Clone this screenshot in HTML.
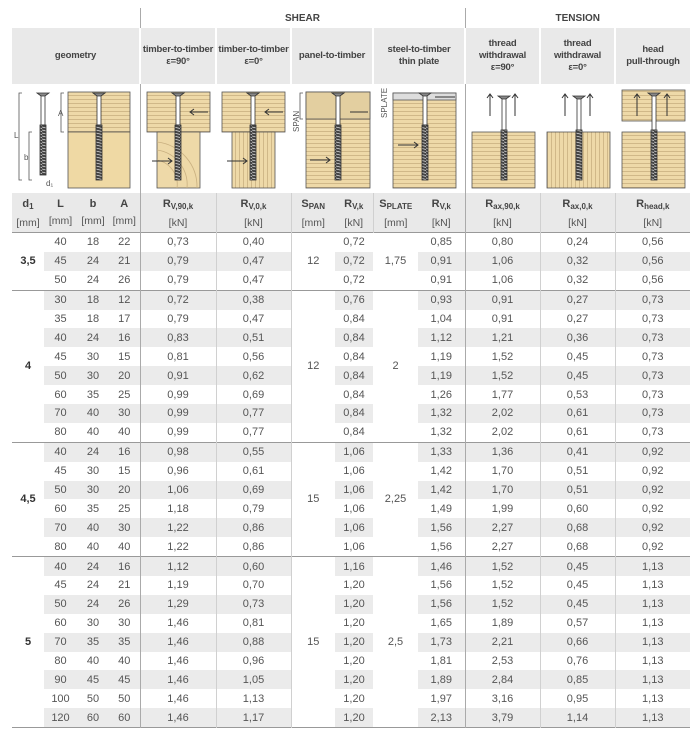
<!DOCTYPE html>
<html><head><meta charset="utf-8"><style>
body{margin:0;width:694px;height:731px;background:#fff;font-family:"Liberation Sans",sans-serif;position:relative;overflow:hidden}
table{position:absolute;left:12px;top:8px;border-collapse:collapse;table-layout:fixed;width:678px}
td{padding:0;text-align:center;font-size:11px;color:#555;white-space:nowrap;overflow:hidden}
.top td{height:20px;font-weight:bold;font-size:10px;color:#444}
.hd td{height:56px;background:#e9e9e9;font-weight:bold;font-size:9.5px;letter-spacing:-0.2px;color:#444;line-height:12px;border-left:2px solid #fff}
.il td{height:109px}
.sy td{height:36px;background:#e9e9e9;color:#444;vertical-align:top;padding-top:3px;line-height:17px}
.sy b{font-size:11px}
.sy span{color:#555;font-size:10.5px}
.d td{height:18.9px}
.g td{background:#ebebeb}
.g td.w,td.w{background:#fff}
.L{border-left:1px solid #aaa}
.l{border-left:1px solid #d0d0d0}
.sep td{border-top:1px solid #999}
.n{color:#333;font-weight:bold}
sub{font-size:8px;vertical-align:-2px}
</style></head><body>
<table>
<colgroup><col style="width:32px"><col style="width:33px"><col style="width:32px"><col style="width:31px"><col style="width:76px"><col style="width:75px"><col style="width:44px"><col style="width:38px"><col style="width:45px"><col style="width:47px"><col style="width:75px"><col style="width:75px"><col style="width:75px"></colgroup>
<tr class="top"><td colspan="4"></td><td colspan="6" class="L">SHEAR</td><td colspan="3" class="L">TENSION</td></tr>
<tr class="hd"><td colspan="4" style="border-left:0">geometry</td><td class="L">timber-to-timber<br>ε=90°</td><td>timber-to-timber<br>ε=0°</td><td colspan="2">panel-to-timber</td><td colspan="2">steel-to-timber<br>thin plate</td><td class="L">thread<br>withdrawal<br>ε=90°</td><td>thread<br>withdrawal<br>ε=0°</td><td>head<br>pull-through</td></tr>
<tr class="il"><td colspan="4"></td><td class="L"></td><td></td><td colspan="2"></td><td colspan="2"></td><td class="L"></td><td></td><td></td></tr>
<tr class="sy"><td><b>d<sub>1</sub></b><br><span>[mm]</span></td><td><b>L</b><br><span>[mm]</span></td><td><b>b</b><br><span>[mm]</span></td><td><b>A</b><br><span>[mm]</span></td><td class="L"><b>R<sub>V,90,k</sub></b><br><span>[kN]</span></td><td class="l"><b>R<sub>V,0,k</sub></b><br><span>[kN]</span></td><td class="l"><b>S<sub>PAN</sub></b><br><span>[mm]</span></td><td><b>R<sub>V,k</sub></b><br><span>[kN]</span></td><td class="l"><b>S<sub>PLATE</sub></b><br><span>[mm]</span></td><td><b>R<sub>V,k</sub></b><br><span>[kN]</span></td><td class="L"><b>R<sub>ax,90,k</sub></b><br><span>[kN]</span></td><td class="l"><b>R<sub>ax,0,k</sub></b><br><span>[kN]</span></td><td class="l"><b>R<sub>head,k</sub></b><br><span>[kN]</span></td></tr>

<tr class="d sep"><td rowspan="3" class="w n">3,5</td><td>40</td><td>18</td><td>22</td><td class="L">0,73</td><td class="l">0,40</td><td rowspan="3" class="w l">12</td><td>0,72</td><td rowspan="3" class="w">1,75</td><td>0,85</td><td class="L">0,80</td><td class="l">0,24</td><td class="l">0,56</td></tr>
<tr class="d g"><td>45</td><td>24</td><td>21</td><td class="L">0,79</td><td class="l">0,47</td><td>0,72</td><td>0,91</td><td class="L">1,06</td><td class="l">0,32</td><td class="l">0,56</td></tr>
<tr class="d"><td>50</td><td>24</td><td>26</td><td class="L">0,79</td><td class="l">0,47</td><td>0,72</td><td>0,91</td><td class="L">1,06</td><td class="l">0,32</td><td class="l">0,56</td></tr>

<tr class="d g sep"><td rowspan="8" class="w n">4</td><td>30</td><td>18</td><td>12</td><td class="L">0,72</td><td class="l">0,38</td><td rowspan="8" class="w l">12</td><td>0,76</td><td rowspan="8" class="w">2</td><td>0,93</td><td class="L">0,91</td><td class="l">0,27</td><td class="l">0,73</td></tr>
<tr class="d"><td>35</td><td>18</td><td>17</td><td class="L">0,79</td><td class="l">0,47</td><td>0,84</td><td>1,04</td><td class="L">0,91</td><td class="l">0,27</td><td class="l">0,73</td></tr>
<tr class="d g"><td>40</td><td>24</td><td>16</td><td class="L">0,83</td><td class="l">0,51</td><td>0,84</td><td>1,12</td><td class="L">1,21</td><td class="l">0,36</td><td class="l">0,73</td></tr>
<tr class="d"><td>45</td><td>30</td><td>15</td><td class="L">0,81</td><td class="l">0,56</td><td>0,84</td><td>1,19</td><td class="L">1,52</td><td class="l">0,45</td><td class="l">0,73</td></tr>
<tr class="d g"><td>50</td><td>30</td><td>20</td><td class="L">0,91</td><td class="l">0,62</td><td>0,84</td><td>1,19</td><td class="L">1,52</td><td class="l">0,45</td><td class="l">0,73</td></tr>
<tr class="d"><td>60</td><td>35</td><td>25</td><td class="L">0,99</td><td class="l">0,69</td><td>0,84</td><td>1,26</td><td class="L">1,77</td><td class="l">0,53</td><td class="l">0,73</td></tr>
<tr class="d g"><td>70</td><td>40</td><td>30</td><td class="L">0,99</td><td class="l">0,77</td><td>0,84</td><td>1,32</td><td class="L">2,02</td><td class="l">0,61</td><td class="l">0,73</td></tr>
<tr class="d"><td>80</td><td>40</td><td>40</td><td class="L">0,99</td><td class="l">0,77</td><td>0,84</td><td>1,32</td><td class="L">2,02</td><td class="l">0,61</td><td class="l">0,73</td></tr>

<tr class="d g sep"><td rowspan="6" class="w n">4,5</td><td>40</td><td>24</td><td>16</td><td class="L">0,98</td><td class="l">0,55</td><td rowspan="6" class="w l">15</td><td>1,06</td><td rowspan="6" class="w">2,25</td><td>1,33</td><td class="L">1,36</td><td class="l">0,41</td><td class="l">0,92</td></tr>
<tr class="d"><td>45</td><td>30</td><td>15</td><td class="L">0,96</td><td class="l">0,61</td><td>1,06</td><td>1,42</td><td class="L">1,70</td><td class="l">0,51</td><td class="l">0,92</td></tr>
<tr class="d g"><td>50</td><td>30</td><td>20</td><td class="L">1,06</td><td class="l">0,69</td><td>1,06</td><td>1,42</td><td class="L">1,70</td><td class="l">0,51</td><td class="l">0,92</td></tr>
<tr class="d"><td>60</td><td>35</td><td>25</td><td class="L">1,18</td><td class="l">0,79</td><td>1,06</td><td>1,49</td><td class="L">1,99</td><td class="l">0,60</td><td class="l">0,92</td></tr>
<tr class="d g"><td>70</td><td>40</td><td>30</td><td class="L">1,22</td><td class="l">0,86</td><td>1,06</td><td>1,56</td><td class="L">2,27</td><td class="l">0,68</td><td class="l">0,92</td></tr>
<tr class="d"><td>80</td><td>40</td><td>40</td><td class="L">1,22</td><td class="l">0,86</td><td>1,06</td><td>1,56</td><td class="L">2,27</td><td class="l">0,68</td><td class="l">0,92</td></tr>

<tr class="d g sep"><td rowspan="9" class="w n">5</td><td>40</td><td>24</td><td>16</td><td class="L">1,12</td><td class="l">0,60</td><td rowspan="9" class="w l">15</td><td>1,16</td><td rowspan="9" class="w">2,5</td><td>1,46</td><td class="L">1,52</td><td class="l">0,45</td><td class="l">1,13</td></tr>
<tr class="d"><td>45</td><td>24</td><td>21</td><td class="L">1,19</td><td class="l">0,70</td><td>1,20</td><td>1,56</td><td class="L">1,52</td><td class="l">0,45</td><td class="l">1,13</td></tr>
<tr class="d g"><td>50</td><td>24</td><td>26</td><td class="L">1,29</td><td class="l">0,73</td><td>1,20</td><td>1,56</td><td class="L">1,52</td><td class="l">0,45</td><td class="l">1,13</td></tr>
<tr class="d"><td>60</td><td>30</td><td>30</td><td class="L">1,46</td><td class="l">0,81</td><td>1,20</td><td>1,65</td><td class="L">1,89</td><td class="l">0,57</td><td class="l">1,13</td></tr>
<tr class="d g"><td>70</td><td>35</td><td>35</td><td class="L">1,46</td><td class="l">0,88</td><td>1,20</td><td>1,73</td><td class="L">2,21</td><td class="l">0,66</td><td class="l">1,13</td></tr>
<tr class="d"><td>80</td><td>40</td><td>40</td><td class="L">1,46</td><td class="l">0,96</td><td>1,20</td><td>1,81</td><td class="L">2,53</td><td class="l">0,76</td><td class="l">1,13</td></tr>
<tr class="d g"><td>90</td><td>45</td><td>45</td><td class="L">1,46</td><td class="l">1,05</td><td>1,20</td><td>1,89</td><td class="L">2,84</td><td class="l">0,85</td><td class="l">1,13</td></tr>
<tr class="d"><td>100</td><td>50</td><td>50</td><td class="L">1,46</td><td class="l">1,13</td><td>1,20</td><td>1,97</td><td class="L">3,16</td><td class="l">0,95</td><td class="l">1,13</td></tr>
<tr class="d g" style="border-bottom:1px solid #999"><td>120</td><td>60</td><td>60</td><td class="L">1,46</td><td class="l">1,17</td><td>1,20</td><td>2,13</td><td class="L">3,79</td><td class="l">1,14</td><td class="l">1,13</td></tr>
</table>

<svg width="694" height="731" style="position:absolute;left:0;top:0" xmlns="http://www.w3.org/2000/svg">
<defs>
<pattern id="h" width="6" height="4" patternUnits="userSpaceOnUse"><rect width="6" height="4" fill="#eed9a8"/><line x1="0" y1="3.5" x2="6" y2="3.5" stroke="#c9b080" stroke-width="0.8"/></pattern>
<pattern id="v" width="4" height="6" patternUnits="userSpaceOnUse"><rect width="4" height="6" fill="#eed9a8"/><line x1="3.5" y1="0" x2="3.5" y2="6" stroke="#c9b080" stroke-width="0.8"/></pattern>
<pattern id="t" width="6" height="3" patternUnits="userSpaceOnUse"><rect width="6" height="3" fill="#444"/><line x1="0" y1="1" x2="6" y2="2.5" stroke="#ddd" stroke-width="0.8"/></pattern>
</defs>
<g stroke="#555" stroke-width="0.8">
<rect x="68" y="92" width="62" height="40" fill="url(#h)"/><rect x="68" y="132" width="62" height="56" fill="#efd9a4"/>
<path d="M22 93h-3v87h3M32 132h-3v48h3M64 93h-3v39h3" fill="none"/>
<rect x="147" y="92" width="63" height="40" fill="url(#h)"/><rect x="157" y="132" width="43" height="56" fill="#eed9a8"/>
<path d="M157 150a35 35 0 0 1 30 38M157 160a25 25 0 0 1 20 28M157 142a45 45 0 0 1 40 46" fill="none" stroke="#c9b080"/>
<rect x="222" y="92" width="63" height="40" fill="url(#h)"/><rect x="232" y="132" width="43" height="56" fill="url(#v)"/>
<rect x="306" y="92" width="64" height="96" fill="url(#h)"/><rect x="306" y="92" width="64" height="27" fill="#e3cfa0"/>
<path d="M303 93h-3v26h3" fill="none"/>
<rect x="393" y="93" width="63" height="95" fill="url(#h)"/><rect x="393" y="93" width="63" height="7" fill="#ddd"/>
<rect x="472" y="132" width="63" height="56" fill="url(#h)"/>
<rect x="547" y="132" width="63" height="56" fill="url(#v)"/>
<rect x="622" y="90" width="63" height="31" fill="url(#h)"/><rect x="622" y="132" width="63" height="56" fill="url(#h)"/>
</g>
<g fill="#fff" stroke="#333" stroke-width="0.8">
<rect x="41" y="95" width="4" height="30"/><rect x="40" y="125" width="6" height="50" fill="url(#t)"/><path d="M37 93h12l-4 3h-4z" fill="#888"/>
<rect x="97" y="95" width="4" height="30"/><rect x="96" y="125" width="6" height="55" fill="url(#t)"/><path d="M93 93h12l-4 3h-4z" fill="#888"/>
<rect x="176" y="95" width="4" height="30"/><rect x="175" y="125" width="6" height="55" fill="url(#t)"/><path d="M172 93h12l-4 3h-4z" fill="#888"/>
<rect x="251" y="95" width="4" height="30"/><rect x="250" y="125" width="6" height="55" fill="url(#t)"/><path d="M247 93h12l-4 3h-4z" fill="#888"/>
<rect x="336" y="95" width="4" height="30"/><rect x="335" y="125" width="6" height="55" fill="url(#t)"/><path d="M332 93h12l-4 3h-4z" fill="#888"/>
<rect x="423" y="95" width="4" height="30"/><rect x="422" y="125" width="6" height="55" fill="url(#t)"/><path d="M419 93h12l-4 3h-4z" fill="#888"/>
<rect x="502" y="98" width="4" height="32"/><rect x="501" y="130" width="6" height="50" fill="url(#t)"/><path d="M498 96h12l-4 3h-4z" fill="#888"/>
<rect x="577" y="98" width="4" height="32"/><rect x="576" y="130" width="6" height="50" fill="url(#t)"/><path d="M573 96h12l-4 3h-4z" fill="#888"/>
<rect x="652" y="95" width="4" height="35"/><rect x="651" y="130" width="6" height="50" fill="url(#t)"/><path d="M648 93h12l-4 3h-4z" fill="#888"/>
</g>
<g stroke="#333" stroke-width="1" fill="none">
<path d="M208 112h-18m4-3l-4 3 4 3M283 112h-18m4-3l-4 3 4 3M368 112h-18M455 97h-20"/>
<path d="M152 161h20m-4-3l4 3-4 3M227 161h20m-4-3l4 3-4 3M310 160h20m-4-3l4 3-4 3M398 145h20m-4-3l4 3-4 3"/>
<path d="M490 116v-22m-3 4l3-4 3 4M515 116v-22m-3 4l3-4 3 4M565 116v-22m-3 4l3-4 3 4M590 116v-22m-3 4l3-4 3 4M637 116v-22m-3 4l3-4 3 4M667 116v-22m-3 4l3-4 3 4"/>
</g>
<g font-family="Liberation Sans,sans-serif" font-size="8" fill="#555">
<text x="14" y="138">L</text><text x="24" y="160">b</text><text x="58" y="116">A</text><text x="46" y="186">d₁</text>
<text x="299" y="132" transform="rotate(-90 299 132)">SPAN</text>
<text x="387" y="118" transform="rotate(-90 387 118)">SPLATE</text>
</g>
</svg>
</body></html>
